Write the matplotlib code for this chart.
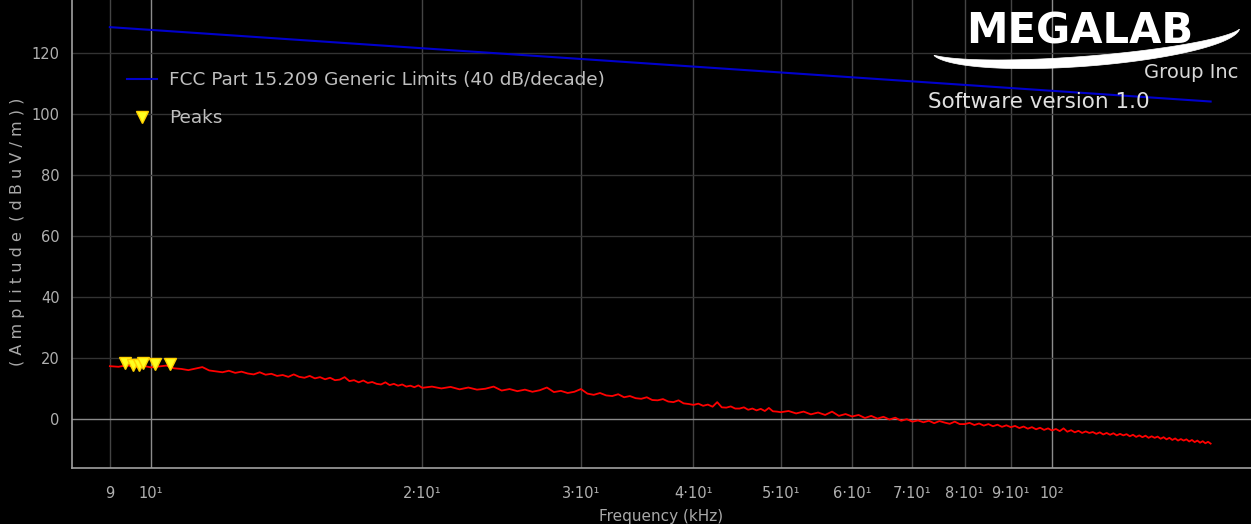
import numpy as np
import matplotlib
matplotlib.use("Agg")
import matplotlib.pyplot as plt
from matplotlib.patches import Polygon

# ---------------- data ----------------
freq_a = [9.0, 9.2, 9.4, 9.6, 9.8, 10.0, 10.2, 10.4, 10.6, 10.8,
          11.0, 11.2, 11.4, 11.6, 11.8, 12.0, 12.2, 12.4, 12.6, 12.8,
          13.0, 13.2, 13.4, 13.6, 13.8, 14.0, 14.2, 14.4, 14.6, 14.8,
          15.0, 15.2, 15.4, 15.6, 15.8, 16.0, 16.2, 16.4, 16.6, 16.8,
          17.0, 17.2, 17.4, 17.6, 17.8, 18.0, 18.2, 18.4, 18.6, 18.8,
          19.0, 19.2, 19.4, 19.6, 19.8, 20.0]
level_a = [17.3, 17.1, 17.6, 17.0, 17.4, 16.9, 17.2, 17.5, 16.6, 16.4,
           16.0, 16.5, 17.0, 15.9, 15.6, 15.3, 15.8, 15.1, 15.5, 14.9,
           14.6, 15.3, 14.5, 14.8, 14.1, 14.4, 13.8, 14.6, 13.8, 13.5,
           14.1, 13.3, 13.7, 13.0, 13.5, 12.7, 12.9, 13.7, 12.4, 12.7,
           12.0, 12.6, 11.8, 12.1, 11.5, 11.3, 12.0, 11.1, 11.5, 10.9,
           11.3, 10.6, 10.9, 10.4, 11.0, 10.2]
freq_b = [20.5, 21.0, 21.5, 22.0, 22.5, 23.0, 23.5, 24.0, 24.5, 25.0,
          25.5, 26.0, 26.5, 27.0, 27.5, 28.0, 28.5, 29.0, 29.5, 30.0,
          30.5, 31.0, 31.5, 32.0, 32.5, 33.0, 33.5, 34.0, 34.5, 35.0,
          35.5, 36.0, 36.5, 37.0, 37.5, 38.0, 38.5, 39.0, 39.5, 40.0,
          40.5, 41.0, 41.5, 42.0, 42.5, 43.0, 43.5, 44.0, 44.5, 45.0,
          45.5, 46.0, 46.5, 47.0, 47.5, 48.0, 48.5, 49.0, 49.5, 50.0]
level_b = [10.6, 10.0, 10.5, 9.7, 10.3, 9.6, 9.9, 10.6, 9.3, 9.8,
           9.1, 9.6, 8.9, 9.4, 10.3, 8.8, 9.2, 8.5, 8.9, 9.8,
           8.3, 7.9, 8.5, 7.7, 7.5, 8.1, 7.1, 7.5, 6.8, 6.6,
           7.1, 6.2, 6.1, 6.5, 5.7, 5.5, 6.1, 5.1, 4.9, 4.6,
           5.0, 4.3, 4.7, 4.0, 5.5, 3.8, 3.7, 4.1, 3.4, 3.4,
           3.8, 3.0, 3.4, 2.8, 3.3, 2.6, 3.6, 2.5, 2.4, 2.2]
freq_c = [51, 52, 53, 54, 55, 56, 57, 58, 59, 60,
          61, 62, 63, 64, 65, 66, 67, 68, 69, 70,
          71, 72, 73, 74, 75, 76, 77, 78, 79, 80,
          81, 82, 83, 84, 85, 86, 87, 88, 89, 90,
          91, 92, 93, 94, 95, 96, 97, 98, 99, 100,
          101, 102, 103, 104, 105, 106, 107, 108, 109, 110,
          111, 112, 113, 114, 115, 116, 117, 118, 119, 120,
          121, 122, 123, 124, 125, 126, 127, 128, 129, 130,
          131, 132, 133, 134, 135, 136, 137, 138, 139, 140,
          141, 142, 143, 144, 145, 146, 147, 148, 149, 150]
level_c = [2.6, 1.8, 2.4, 1.5, 2.1, 1.3, 2.4, 1.0, 1.6, 0.8,
           1.3, 0.3, 1.0, 0.1, 0.7, -0.2, 0.4, -0.6, -0.1, -0.9,
           -0.5, -1.1, -0.6, -1.4, -0.7, -1.2, -1.6, -0.9, -1.7, -1.7,
           -1.3, -2.0, -1.5, -2.2, -1.7, -2.4, -1.9, -2.6, -2.1, -2.7,
           -2.3, -3.0, -2.5, -3.2, -2.7, -3.4, -2.9, -3.6, -3.1, -3.8,
           -3.3, -4.0, -3.1, -4.2, -3.7, -4.4, -3.9, -4.6, -4.1, -4.6,
           -4.3, -4.9, -4.4, -5.1, -4.6, -5.2, -4.7, -5.4, -4.9, -5.4,
           -5.0, -5.7, -5.2, -5.9, -5.4, -6.0, -5.5, -6.2, -5.7, -6.2,
           -5.8, -6.5, -6.0, -6.7, -6.2, -6.9, -6.4, -7.1, -6.6, -7.1,
           -6.7, -7.4, -6.9, -7.6, -7.1, -7.8, -7.3, -8.0, -7.5, -8.1]

limit_freq = [9.0, 150.0]
limit_level = [128.5, 104.1]

peak_freq = [9.36, 9.55, 9.70, 9.80, 10.10, 10.50]
peak_level = [18.2, 17.6, 17.6, 18.4, 18.0, 18.0]

x_ticks = [9, 10, 20, 30, 40, 50, 60, 70, 80, 90, 100]
x_tick_labels = ["9", "10¹", "2·10¹", "3·10¹", "4·10¹", "5·10¹", "6·10¹",
                 "7·10¹", "8·10¹", "9·10¹", "10²"]
y_ticks = [0, 20, 40, 60, 80, 100, 120]

# ---------------- figure ----------------
W, H = 1251, 524
fig = plt.figure(figsize=(W / 100, H / 100), dpi=100, facecolor="black")
plt.rcParams['font.family'] = ['DejaVu Sans']

ax_left, ax_bottom = 72, 468
ax = fig.add_axes([ax_left / W, (H - ax_bottom) / H, (W - ax_left) / W, ax_bottom / H])
ax.set_facecolor("black")
ax.set_xscale("log")
ax.set_xlim(8.17, 166.3)
ax.set_ylim(-16.1, 137.4)

# grid
for f in x_ticks:
    c = "#8c8c8c" if f in (10, 100) else "#444444"
    ax.axvline(f, color=c, lw=1.0, zorder=1)
for v in y_ticks:
    c = "#8a8a8a" if v == 0 else "#333333"
    ax.axhline(v, color=c, lw=1.0, zorder=1)

ax.set_xticks(x_ticks)
ax.set_xticklabels(x_tick_labels)
ax.xaxis.set_minor_locator(matplotlib.ticker.NullLocator())
ax.set_yticks(y_ticks)
ax.tick_params(axis="both", length=0, colors="#b0b0b0", labelsize=10.5)
ax.tick_params(axis="x", pad=13)
ax.tick_params(axis="y", pad=9)

for s in ("top", "right"):
    ax.spines[s].set_visible(False)
for s in ("left", "bottom"):
    ax.spines[s].set_color("#a0a0a0")
    ax.spines[s].set_linewidth(1.2)

# data
freq = freq_a + freq_b + freq_c
level = level_a + level_b + level_c
ax.plot(freq, level, color="#ff0000", lw=1.3, zorder=3)
ax.plot(limit_freq, limit_level, color="#0000cc", lw=1.5, zorder=3,
        label="FCC Part 15.209 Generic Limits (40 dB/decade)")
ax.plot(peak_freq, peak_level, linestyle="none", marker="v", markersize=9,
        markerfacecolor="#ffff20", markeredgecolor="#ffd000", zorder=4, label="Peaks")

leg = fig.legend(loc="upper left", bbox_to_anchor=(127 / W, 1 - 71 / H),
                 frameon=False, fontsize=13.3, borderpad=0, borderaxespad=0,
                 handlelength=1.65, handletextpad=0.62, labelspacing=1.1,
                 labelcolor="#c0c0c0")

# labels
fig.text(661 / W, 1 - 516 / H, "Frequency (kHz)", color="#a8a8a8", fontsize=11,
         ha="center", va="center")
fig.text(18 / W, 1 - 232 / H, "( A m p l i t u d e  ( d B u V / m ) )", color="#a8a8a8",
         fontsize=11.5, rotation=90, ha="center", va="center")

# logo
fig.text(1080 / W, 1 - 32 / H, "MEGALAB", color="white", fontsize=30, fontweight="bold",
         ha="center", va="center")
t = np.linspace(np.deg2rad(167), np.deg2rad(5), 240)
cx, cy, a, b, sr = 1085.0, 39.0, 155.0, 22.3, 0.0755
lx, ly = a * np.cos(t), b * np.sin(t)
px = cx + lx
py = cy + ly - lx * sr
s = (t - t[0]) / (t[-1] - t[0])
w = 10.0 * np.sin(np.pi * s) ** 0.7
upper = np.column_stack([px / W, 1 - (py - w / 2) / H])
lower = np.column_stack([px / W, 1 - (py + w / 2) / H])
poly = np.vstack([upper, lower[::-1]])
fig.patches.append(Polygon(poly, closed=True, transform=fig.transFigure,
                           facecolor="white", edgecolor="white", lw=0.5))
fig.text(1238 / W, 1 - 72 / H, "Group Inc", color="#d8d8d8", fontsize=14,
         ha="right", va="center")
fig.text(928 / W, 1 - 102 / H, "Software version 1.0", color="#e0e0e0", fontsize=15.5,
         ha="left", va="center")

fig.savefig("out.png", dpi=100, facecolor="black")
